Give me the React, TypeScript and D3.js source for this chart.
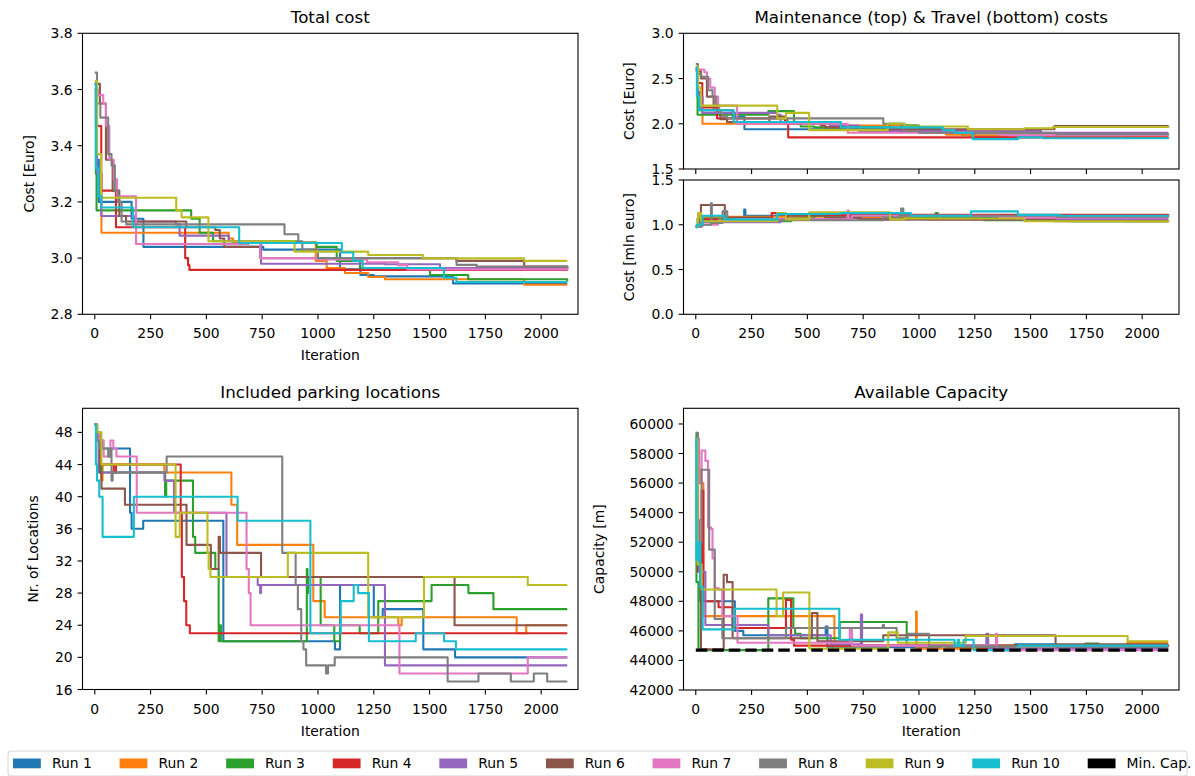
import React from "react";
import * as d3 from "d3";

type Pt = [number, number];

// ---- shared categories / ticks ----
const runNames = ["Run 1", "Run 2", "Run 3", "Run 4", "Run 5", "Run 6", "Run 7", "Run 8", "Run 9", "Run 10"];
const runColors = ["#1f77b4", "#ff7f0e", "#2ca02c", "#d62728", "#9467bd", "#8c564b", "#e377c2", "#7f7f7f", "#bcbd22", "#17becf"];
const minCapLabel = "Min. Cap.";
const xTicks = [0, 250, 500, 750, 1000, 1250, 1500, 1750, 2000];
const totalTicks = [2.8, 3.0, 3.2, 3.4, 3.6, 3.8];
const maintTicks = [1.5, 2.0, 2.5, 3.0];
const travelTicks = [0.0, 0.5, 1.0, 1.5];
const locationTicks = [16, 20, 24, 28, 32, 36, 40, 44, 48];
const capacityTicks = [42000, 44000, 46000, 48000, 50000, 52000, 54000, 56000, 58000, 60000];
const minCapacity = 44700;
const lastIteration = 2117;

// ---- total cost per run [iteration, cost] ----
const totalCost: Pt[][] = [
  [[0, 3.62], [8, 3.35], [18, 3.2], [157, 3.2], [165, 3.14], [218, 3.04], [750, 3.04], [755, 3.03], [1076, 3.03], [1099, 2.96], [1190, 2.94], [1250, 2.935], [1605, 2.91], [2117, 2.91]],
  [[0, 3.6], [10, 3.3], [30, 3.09], [590, 3.09], [600, 3.07], [620, 3.055], [987, 3.055], [990, 2.99], [1039, 2.965], [1121, 2.947], [1225, 2.933], [1300, 2.925], [1924, 2.905], [2117, 2.905]],
  [[0, 3.6], [5, 3.3], [8, 3.17], [426, 3.17], [432, 3.14], [470, 3.09], [530, 3.06], [905, 3.055], [994, 3.04], [1084, 2.99], [1188, 2.965], [1502, 2.94], [1673, 2.925], [2117, 2.918]],
  [[0, 3.6], [5, 3.47], [29, 3.24], [89, 3.24], [95, 3.11], [398, 3.11], [405, 3.0], [418, 2.975], [424, 2.958], [2117, 2.956]],
  [[0, 3.62], [10, 3.3], [29, 3.15], [170, 3.15], [175, 3.13], [364, 3.12], [380, 3.08], [590, 3.08], [600, 3.06], [740, 3.06], [745, 2.98], [1300, 2.978], [1547, 2.965], [2117, 2.962]],
  [[0, 3.62], [23, 3.55], [50, 3.35], [80, 3.24], [110, 3.15], [140, 3.13], [398, 3.13], [410, 3.11], [540, 3.1], [560, 3.07], [580, 3.04], [741, 3.0], [1620, 2.99], [1924, 2.97], [2117, 2.966]],
  [[0, 3.6], [15, 3.58], [38, 3.55], [50, 3.47], [65, 3.35], [85, 3.28], [100, 3.22], [180, 3.22], [185, 3.05], [672, 3.05], [690, 3.055], [741, 3.0], [1000, 2.995], [1220, 2.985], [1359, 2.975], [1400, 2.96], [2117, 2.958]],
  [[0, 3.66], [10, 3.55], [25, 3.5], [60, 3.37], [75, 3.33], [90, 3.24], [105, 3.2], [120, 3.13], [141, 3.12], [840, 3.12], [850, 3.085], [912, 3.06], [930, 3.03], [1000, 3.0], [1621, 2.976], [1711, 2.97], [2117, 2.965]],
  [[0, 3.63], [10, 3.37], [28, 3.215], [360, 3.215], [365, 3.17], [389, 3.145], [501, 3.145], [509, 3.06], [888, 3.06], [895, 3.023], [1225, 3.011], [1470, 2.999], [1924, 2.99], [2117, 2.99]],
  [[0, 3.62], [5, 3.32], [15, 3.22], [30, 3.18], [166, 3.18], [172, 3.11], [638, 3.11], [647, 3.054], [1099, 3.054], [1107, 3.02], [1158, 2.99], [1200, 2.965], [1554, 2.965], [1565, 2.93], [1620, 2.915], [2117, 2.915]],
];

// ---- maintenance cost per run ----
const maintenanceCost: Pt[][] = [
  [[0, 2.6], [8, 2.35], [18, 2.15], [157, 2.15], [165, 2.08], [218, 1.94], [1076, 1.94], [1099, 1.9], [1190, 1.88], [1250, 1.87], [1605, 1.845], [2117, 1.845]],
  [[0, 2.6], [10, 2.3], [30, 2.0], [590, 2.0], [620, 1.98], [987, 1.98], [990, 1.93], [1039, 1.9], [1121, 1.88], [1225, 1.87], [1924, 1.865], [2117, 1.865]],
  [[0, 2.62], [8, 2.1], [322, 2.1], [325, 2.14], [427, 2.14], [440, 2.0], [470, 1.97], [530, 1.96], [860, 1.96], [865, 2.0], [935, 1.98], [1000, 1.95], [1090, 1.92], [1190, 1.9], [1500, 1.89], [1680, 1.88], [2117, 1.88]],
  [[0, 2.6], [10, 2.45], [29, 2.18], [89, 2.18], [95, 2.06], [395, 2.06], [400, 2.0], [414, 1.85], [2117, 1.852]],
  [[0, 2.62], [10, 2.3], [29, 2.12], [175, 2.12], [364, 2.1], [380, 2.02], [590, 2.02], [600, 1.98], [726, 1.98], [730, 1.92], [1300, 1.92], [1547, 1.9], [2117, 1.9]],
  [[0, 2.58], [23, 2.5], [50, 2.3], [80, 2.15], [110, 2.05], [140, 2.02], [330, 2.08], [398, 2.06], [410, 2.0], [560, 1.98], [580, 1.96], [741, 1.94], [1607, 1.975], [2117, 1.978]],
  [[0, 2.6], [15, 2.6], [38, 2.57], [50, 2.5], [65, 2.4], [85, 2.3], [100, 2.2], [180, 2.2], [185, 2.0], [672, 2.0], [681, 1.9], [1000, 1.9], [1359, 1.88], [1400, 1.875], [2117, 1.878]],
  [[0, 2.66], [10, 2.55], [25, 2.52], [55, 2.37], [75, 2.3], [90, 2.2], [105, 2.12], [120, 2.08], [141, 2.06], [830, 2.06], [840, 2.0], [920, 1.97], [930, 1.92], [1000, 1.9], [1616, 1.885], [2117, 1.882]],
  [[0, 2.63], [10, 2.4], [23, 2.2], [359, 2.2], [365, 2.06], [404, 2.12], [508, 1.93], [860, 2.0], [935, 1.97], [1219, 1.94], [1472, 1.95], [1600, 1.965], [2117, 1.972]],
  [[0, 2.62], [5, 2.3], [15, 2.15], [165, 2.15], [170, 2.02], [643, 2.02], [650, 1.96], [1107, 1.93], [1158, 1.9], [1241, 1.83], [1443, 1.85], [1555, 1.84], [2117, 1.838]],
];

// ---- travel cost per run ----
const travelCost: Pt[][] = [
  [[0, 0.98], [18, 1.05], [157, 1.07], [217, 1.17], [222, 1.1], [1076, 1.1], [1099, 1.08], [1250, 1.06], [1260, 1.08], [1605, 1.07], [2117, 1.07]],
  [[0, 0.98], [10, 1.1], [30, 1.09], [590, 1.09], [620, 1.08], [987, 1.08], [1039, 1.06], [1225, 1.06], [1924, 1.04], [2117, 1.04]],
  [[0, 0.98], [8, 1.07], [322, 1.04], [427, 1.07], [530, 1.1], [905, 1.07], [994, 1.08], [1075, 1.13], [1084, 1.07], [1290, 1.05], [1500, 1.05], [1680, 1.04], [2117, 1.035]],
  [[0, 0.99], [29, 1.06], [95, 1.05], [340, 1.13], [398, 1.11], [414, 1.11], [2117, 1.12]],
  [[0, 0.98], [29, 1.03], [175, 1.03], [380, 1.06], [590, 1.06], [600, 1.08], [726, 1.06], [1300, 1.06], [1547, 1.065], [2117, 1.065]],
  [[0, 0.98], [10, 1.05], [23, 1.22], [127, 1.22], [130, 1.08], [330, 1.06], [410, 1.1], [580, 1.08], [741, 1.06], [1607, 1.04], [2117, 1.04]],
  [[0, 0.98], [15, 1.0], [100, 1.05], [185, 1.06], [672, 1.06], [680, 1.16], [685, 1.06], [700, 1.1], [1000, 1.1], [1359, 1.08], [2117, 1.08]],
  [[0, 0.98], [25, 1.0], [68, 1.24], [72, 1.02], [120, 1.15], [141, 1.05], [840, 1.08], [912, 1.1], [920, 1.18], [930, 1.1], [1000, 1.1], [1616, 1.09], [2117, 1.085]],
  [[0, 0.98], [10, 1.13], [23, 1.04], [359, 1.04], [365, 1.13], [404, 1.06], [508, 1.14], [860, 1.14], [870, 1.06], [935, 1.07], [1219, 1.07], [1472, 1.04], [2117, 1.035]],
  [[0, 0.97], [5, 1.0], [30, 1.1], [127, 1.1], [130, 1.06], [359, 1.06], [365, 1.12], [640, 1.12], [650, 1.13], [964, 1.1], [1233, 1.15], [1443, 1.11], [1630, 1.1], [2117, 1.09]],
];

// ---- number of included parking locations per run ----
const parkingLocations: Pt[][] = [
  [[0, 49], [10, 47], [37, 46], [155, 46], [158, 38], [165, 36], [217, 37], [569, 37], [576, 22], [1075, 22], [1076, 21], [1099, 29], [1250, 25], [1290, 26], [1472, 21], [1614, 20], [2117, 20]],
  [[0, 49], [10, 48], [20, 44], [29, 42], [35, 44], [312, 43], [612, 39], [638, 34], [979, 27], [1030, 25], [1360, 24], [1375, 25], [1890, 23], [1933, 24], [2117, 24]],
  [[0, 49], [10, 47], [20, 44], [30, 43], [315, 40], [320, 42], [426, 42], [440, 35], [450, 33], [501, 33], [540, 31], [555, 22], [560, 24], [565, 22], [947, 22], [950, 31], [953, 28], [956, 30], [1007, 30], [1012, 24], [1073, 22], [1099, 24], [1187, 23], [1264, 23], [1270, 27], [1509, 29], [1674, 28], [1786, 26], [2117, 26]],
  [[0, 49], [10, 48], [20, 44], [85, 43], [95, 44], [381, 44], [385, 38], [390, 30], [400, 27], [410, 24], [426, 23], [2117, 23]],
  [[0, 49], [10, 47], [17, 43], [312, 42], [355, 38], [584, 38], [590, 30], [730, 29], [741, 28], [745, 29], [1300, 19], [2117, 19]],
  [[0, 49], [10, 48], [23, 43], [30, 41], [128, 41], [135, 39], [406, 39], [411, 34], [509, 34], [520, 31], [555, 35], [561, 33], [741, 33], [745, 30], [1607, 30], [1612, 24], [2117, 24]],
  [[0, 49], [10, 48], [20, 47], [40, 45], [70, 47], [83, 46], [97, 45], [172, 45], [188, 38], [672, 38], [680, 31], [690, 28], [698, 24], [1358, 24], [1365, 18], [1933, 18], [1940, 20], [2117, 20]],
  [[0, 49], [10, 47], [20, 46], [60, 45], [70, 46], [75, 42], [80, 43], [322, 45], [837, 45], [840, 33], [895, 33], [900, 29], [910, 26], [925, 22], [935, 21], [947, 19], [1033, 19], [1036, 18], [1045, 19], [1075, 20], [1575, 20], [1581, 17], [1719, 18], [1864, 17], [1967, 18], [2027, 17], [2117, 17]],
  [[0, 49], [10, 48], [30, 44], [359, 44], [362, 35], [381, 38], [501, 38], [505, 33], [510, 31], [518, 30], [861, 30], [865, 33], [1221, 33], [1225, 25], [1470, 25], [1475, 30], [1933, 30], [1940, 29], [2117, 29]],
  [[0, 49], [5, 44], [10, 42], [20, 40], [35, 35], [172, 35], [175, 40], [636, 40], [640, 37], [964, 37], [966, 23], [1099, 23], [1102, 27], [1151, 27], [1160, 29], [1180, 28], [1224, 28], [1228, 22], [1435, 22], [1438, 23], [1561, 23], [1565, 22], [1614, 22], [1618, 21], [2117, 21]],
];

// ---- available capacity [m] per run ----
const availableCapacity: Pt[][] = [
  [[0, 59000], [10, 52000], [20, 48000], [172, 48000], [175, 46000], [213, 45700], [579, 45700], [582, 46300], [590, 44900], [1100, 45000], [1120, 44900], [1430, 45100], [1610, 45100], [1615, 44900], [2117, 44900]],
  [[0, 59000], [10, 57000], [20, 56000], [34, 47000], [613, 47000], [621, 45000], [985, 45000], [987, 47300], [990, 44800], [1930, 44800], [1932, 45200], [2117, 45200]],
  [[0, 59400], [3, 49300], [12, 44700], [322, 44700], [325, 48200], [434, 48200], [437, 46200], [445, 45800], [470, 45500], [643, 45500], [645, 46600], [942, 46600], [945, 45000], [1740, 45000], [1745, 45150], [1800, 45150], [1805, 44950], [2117, 44950]],
  [[0, 59000], [10, 50000], [26, 55500], [34, 48000], [100, 48000], [102, 47600], [160, 47600], [165, 46200], [400, 46200], [404, 48100], [420, 48100], [427, 45400], [440, 45000], [2117, 44950]],
  [[0, 59000], [5, 53500], [15, 50000], [43, 46400], [322, 46400], [325, 45700], [600, 45700], [605, 45100], [738, 45100], [740, 47100], [745, 45000], [1300, 45000], [1302, 45800], [1310, 44800], [2117, 44800]],
  [[0, 58500], [8, 52000], [23, 44750], [120, 44750], [125, 49800], [140, 49300], [160, 49300], [165, 45500], [516, 45500], [520, 47200], [538, 47200], [545, 45300], [838, 45300], [840, 45700], [1607, 45700], [1612, 45100], [2117, 45100]],
  [[0, 59000], [15, 56000], [26, 58200], [43, 57500], [55, 53000], [68, 52900], [75, 50900], [85, 48900], [102, 48800], [119, 47000], [162, 47000], [187, 45200], [688, 45200], [690, 46100], [700, 45000], [1340, 45000], [1345, 45800], [1350, 44700], [2117, 44700]],
  [[0, 59400], [10, 52000], [26, 56900], [60, 51500], [85, 46800], [119, 45500], [322, 45500], [404, 46200], [836, 46200], [838, 46400], [843, 46200], [900, 45500], [950, 45800], [1040, 45800], [1045, 44950], [2117, 44950]],
  [[0, 59000], [8, 50500], [26, 48800], [357, 48800], [362, 47000], [391, 48600], [502, 48600], [509, 44800], [860, 44800], [862, 45900], [900, 45900], [905, 45200], [1208, 45200], [1210, 45650], [1932, 45650], [1935, 45300], [2117, 45300]],
  [[0, 59000], [3, 50800], [10, 52000], [20, 49000], [31, 46100], [170, 46100], [172, 47500], [638, 47500], [643, 45400], [1157, 45400], [1160, 45000], [1174, 45400], [1180, 45000], [1200, 45400], [1240, 45400], [1245, 44700], [1440, 44700], [1445, 45000], [2117, 45000]],
];

const FONT = "DejaVu Sans, Liberation Sans, sans-serif";
const TICK_FS = 13.9;
const TITLE_FS = 16.7;
const TICK_LEN = 4.9;
const xDomain: [number, number] = [-55, 2165];

interface AxesProps {
  id: string;
  left: number;
  top: number;
  width: number;
  height: number;
  yDomain: [number, number];
  yTicks: number[];
  yFormat: (v: number) => string;
  series: Pt[][];
  showXLabels: boolean;
  title?: string;
  yLabel: string;
  yLabelX: number;
  xLabel?: string;
  minCap?: number;
}

function Axes(p: AxesProps) {
  const x = d3.scaleLinear().domain(xDomain).range([p.left, p.left + p.width]);
  const y = d3.scaleLinear().domain(p.yDomain).range([p.top + p.height, p.top]);
  const line = d3
    .line<Pt>()
    .x((d) => x(d[0]))
    .y((d) => y(d[1]))
    .curve(d3.curveStepAfter);
  const bottom = p.top + p.height;
  const midY = p.top + p.height / 2;
  return (
    <g>
      <defs>
        <clipPath id={p.id}>
          <rect x={p.left} y={p.top} width={p.width} height={p.height} />
        </clipPath>
      </defs>
      <g clipPath={`url(#${p.id})`}>
        {p.series.map((s, i) => (
          <path
            key={i}
            d={line(s) || ""}
            fill="none"
            stroke={runColors[i]}
            strokeWidth={2.1}
            strokeLinejoin="round"
          />
        ))}
        {p.minCap !== undefined && (
          <path
            d={line([[0, p.minCap], [lastIteration, p.minCap]]) || ""}
            fill="none"
            stroke="#000"
            strokeWidth={3.2}
            strokeDasharray="11.5,5"
          />
        )}
      </g>
      <rect x={p.left} y={p.top} width={p.width} height={p.height} fill="none" stroke="#000" strokeWidth={1.1} />
      {xTicks.map((t) => (
        <g key={"x" + t}>
          <line x1={x(t)} x2={x(t)} y1={bottom} y2={bottom + TICK_LEN} stroke="#000" strokeWidth={1.1} />
          {p.showXLabels && (
            <text x={x(t)} y={bottom + 24} textAnchor="middle" fontSize={TICK_FS} fontFamily={FONT} fill="#000">
              {t}
            </text>
          )}
        </g>
      ))}
      {p.yTicks.map((t) => (
        <g key={"y" + t}>
          <line x1={p.left - TICK_LEN} x2={p.left} y1={y(t)} y2={y(t)} stroke="#000" strokeWidth={1.1} />
          <text
            x={p.left - TICK_LEN - 4.9}
            y={y(t)}
            dy="0.36em"
            textAnchor="end"
            fontSize={TICK_FS}
            fontFamily={FONT}
            fill="#000"
          >
            {p.yFormat(t)}
          </text>
        </g>
      ))}
      {p.title && (
        <text x={p.left + p.width / 2} y={p.top - 10.5} textAnchor="middle" fontSize={TITLE_FS} fontFamily={FONT} fill="#000">
          {p.title}
        </text>
      )}
      {p.xLabel && (
        <text x={p.left + p.width / 2} y={bottom + 46} textAnchor="middle" fontSize={TICK_FS} fontFamily={FONT} fill="#000">
          {p.xLabel}
        </text>
      )}
      <text
        transform={`translate(${p.yLabelX},${midY}) rotate(-90)`}
        textAnchor="middle"
        fontSize={TICK_FS}
        fontFamily={FONT}
        fill="#000"
      >
        {p.yLabel}
      </text>
    </g>
  );
}

let measureCtx: CanvasRenderingContext2D | null = null;
function textWidth(t: string): number {
  if (!measureCtx) measureCtx = document.createElement("canvas").getContext("2d");
  if (!measureCtx) return t.length * 8;
  measureCtx.font = `${TICK_FS}px "DejaVu Sans"`;
  return measureCtx.measureText(t).width;
}

function Legend() {
  const entries = runNames.map((n, i) => ({ name: n, color: runColors[i] })).concat([{ name: minCapLabel, color: "#000" }]);
  const handle = 27.8;
  const pad = 11.1;
  const colGap = 27.8;
  let cursor = 13;
  const items = entries.map((e) => {
    const it = { ...e, x: cursor };
    cursor += handle + pad + textWidth(e.name) + colGap;
    return it;
  });
  return (
    <g>
      <rect x={8} y={751} width={1179} height={25} rx={3} fill="#fff" stroke="#d4d4d4" strokeWidth={1} />
      {items.map((it) => (
        <g key={it.name}>
          <rect x={it.x} y={758.5} width={handle} height={9.8} fill={it.color} />
          <text x={it.x + handle + pad} y={768} fontSize={TICK_FS} fontFamily={FONT} fill="#000">
            {it.name}
          </text>
        </g>
      ))}
    </g>
  );
}

export default function App() {
  const f1 = d3.format(".1f");
  const fInt = d3.format("d");
  const leftX = 82.5;
  const rightX = 683.5;
  const panelW = 495.5;
  return (
    <svg
      width={1195}
      height={776}
      viewBox="0 0 1195 776"
      style={{ position: "absolute", left: 0, top: 0, background: "#fff" }}
    >
      <rect width={1195} height={776} fill="#fff" />
      <Axes
        id="clip-total"
        left={leftX}
        top={33.3}
        width={panelW}
        height={281}
        yDomain={[2.8, 3.8]}
        yTicks={totalTicks}
        yFormat={f1}
        series={totalCost}
        showXLabels
        title="Total cost"
        yLabel="Cost [Euro]"
        yLabelX={33.5}
        xLabel="Iteration"
      />
      <Axes
        id="clip-maint"
        left={rightX}
        top={33.3}
        width={panelW}
        height={135.7}
        yDomain={[1.5, 3.0]}
        yTicks={maintTicks}
        yFormat={f1}
        series={maintenanceCost}
        showXLabels={false}
        title="Maintenance (top) & Travel (bottom) costs"
        yLabel="Cost [Euro]"
        yLabelX={633.5}
      />
      <Axes
        id="clip-travel"
        left={rightX}
        top={180}
        width={panelW}
        height={134.3}
        yDomain={[0, 1.5]}
        yTicks={travelTicks}
        yFormat={f1}
        series={travelCost}
        showXLabels
        yLabel="Cost [mln euro]"
        yLabelX={633.5}
      />
      <Axes
        id="clip-loc"
        left={leftX}
        top={408.3}
        width={panelW}
        height={281.2}
        yDomain={[16, 51]}
        yTicks={locationTicks}
        yFormat={fInt}
        series={parkingLocations}
        showXLabels
        title="Included parking locations"
        yLabel="Nr. of Locations"
        yLabelX={37.5}
        xLabel="Iteration"
      />
      <Axes
        id="clip-cap"
        left={rightX}
        top={408.3}
        width={panelW}
        height={281.7}
        yDomain={[42000, 61060]}
        yTicks={capacityTicks}
        yFormat={fInt}
        series={availableCapacity}
        showXLabels
        title="Available Capacity"
        yLabel="Capacity [m]"
        yLabelX={604}
        xLabel="Iteration"
        minCap={minCapacity}
      />
      <Legend />
    </svg>
  );
}
